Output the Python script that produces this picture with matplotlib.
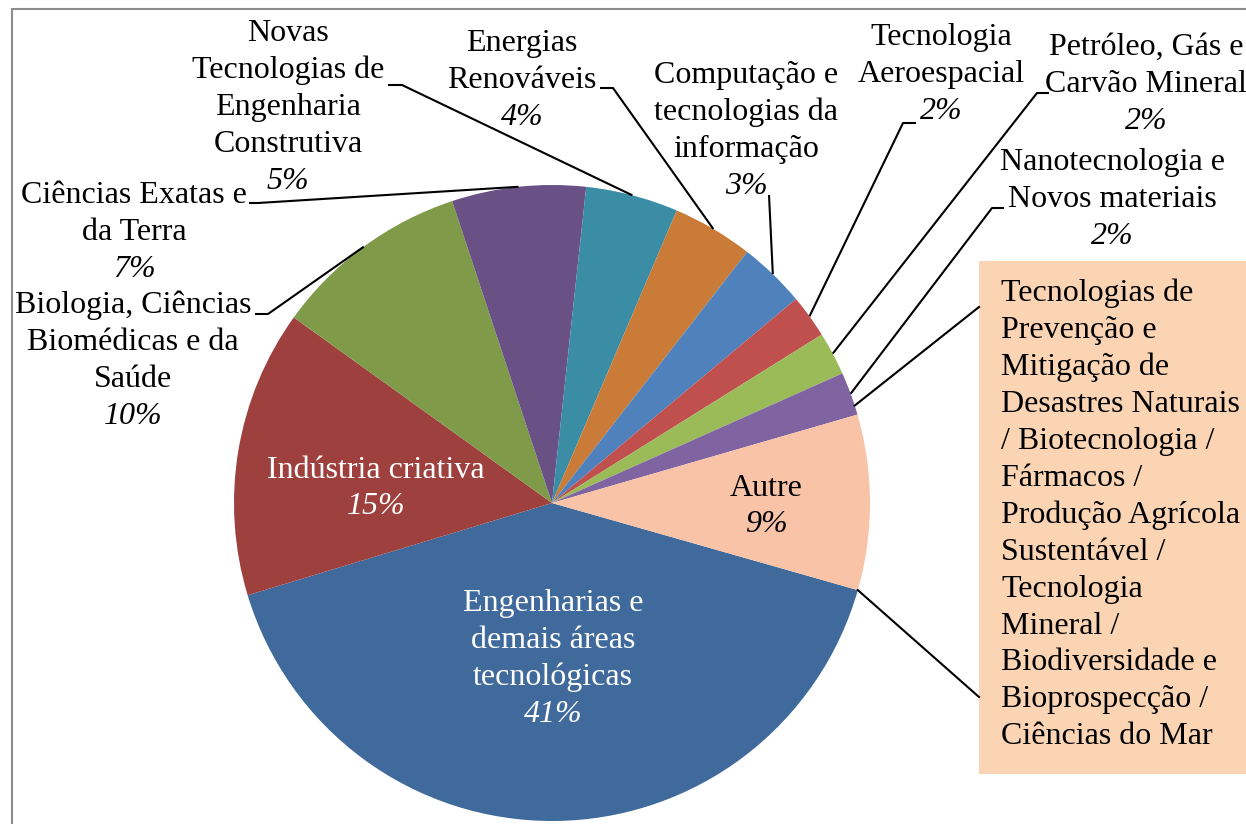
import numpy as np
import matplotlib
matplotlib.use('Agg')
import matplotlib.pyplot as plt
from matplotlib.patches import Rectangle

plt.rcParams['font.family'] = ['Liberation Serif', 'DejaVu Serif']

# dados (parcelas, sentido horario)
categorias = ['Engenharias e\ndemais áreas\ntecnológicas',
              'Indústria criativa',
              'Biologia, Ciências\nBiomédicas e da\nSaúde',
              'Ciências Exatas e\nda Terra',
              'Novas\nTecnologias de\nEngenharia\nConstrutiva',
              'Energias\nRenováveis',
              'Computação e\ntecnologias da\ninformação',
              'Tecnologia\nAeroespacial',
              'Petróleo, Gás e\nCarvão Mineral',
              'Nanotecnologia e\nNovos materiais',
              'Autre']
valores = [40.9, 14.6, 10.0, 6.8, 4.7, 4.1, 3.4, 2.2, 2.2, 2.2, 8.9]
cores = ['#406A9B', '#9E413E', '#7F9A48', '#695186', '#3B8CA5', '#CB7B38',
         '#4F81BD', '#C0504D', '#9BBB59', '#8064A2', '#F9C3A7']
texto_caixa = ['Tecnologias de', 'Prevenção e', 'Mitigação de',
               'Desastres Naturais', '/ Biotecnologia /', 'Fármacos /',
               'Produção Agrícola', 'Sustentável /', 'Tecnologia',
               'Mineral /', 'Biodiversidade e', 'Bioprospecção /',
               'Ciências do Mar']

W, H = 1246, 824
fig = plt.figure(figsize=(W / 100, H / 100), dpi=100)
ax = fig.add_axes([0, 0, 1, 1])

def py(y):
    # coordenada em pixel (de cima) -> dados
    return H - y

cx, cy, R = 552, 503, 318
a0 = -15.9
ax.pie(valores, colors=cores, startangle=a0, counterclock=False,
       center=(cx, py(cy)), radius=R, wedgeprops=dict(linewidth=0))

# angulos das fatias
tot = sum(valores)
fim = a0 - 360 * np.cumsum(valores) / tot
ini = np.concatenate([[a0], fim[:-1]])
meio = (ini + fim) / 2

def borda(ang):
    t = np.deg2rad(ang)
    return cx + R * np.cos(t), cy - R * np.sin(t)

FS = 23
LH = 37
# posicao dos rotulos: (x centro, y da primeira linha, cor)
pos = [(553, 603, 'white'), (376, 470, 'white'), (133, 305, 'black'),
       (134, 195, 'black'), (288, 33, 'black'), (522, 43, 'black'),
       (746, 75, 'black'), (941, 37, 'black'), (1146, 47, 'black'),
       (1112, 162, 'black'), (766, 488, 'black')]

for nome, v, (x, y0, c) in zip(categorias, valores, pos):
    n = nome.count('\n') + 1
    for k, linha in enumerate(nome.split('\n')):
        ax.text(x, py(y0 + k * LH), linha, ha='center', va='center',
                fontsize=FS, color=c)
    ax.text(x, py(y0 + n * LH), '{:.0f}%'.format(v), ha='center',
            va='center', fontsize=FS, color=c, style='italic')

# linhas de chamada
chamadas = {4: [(388, 85), (402, 85)], 3: [(249, 203), (258, 203)],
            2: [(255, 314), (268, 314)], 5: [(600, 88), (613, 88)],
            6: [(769, 195)], 7: [(916, 123), (903, 123)],
            8: [(1049, 93), (1037, 93)], 9: [(1004, 208), (992, 208)]}
for i, pts in chamadas.items():
    pts = pts + [borda(meio[i])]
    xs = [p[0] for p in pts]
    ys = [py(p[1]) for p in pts]
    ax.plot(xs, ys, color='black', lw=1.5, solid_capstyle='butt')

# caixa "Autre"
ax.add_patch(Rectangle((979, py(774)), 400, 774 - 261, facecolor='#FBD4B4',
                       edgecolor='none', zorder=1))
for k, linha in enumerate(texto_caixa):
    ax.text(1001, py(293 + k * LH), linha, ha='left', va='center',
            fontsize=FS, color='black', zorder=2)
for ang, yb in [(ini[-1] + 1.7, 307), (fim[-1], 697)]:
    bx, by = borda(ang)
    ax.plot([bx, 979], [py(by), py(yb)], color='black', lw=1.5)

# moldura
ax.add_patch(Rectangle((12, -100), 1400, py(9) + 100, fill=False,
                       edgecolor='#8C8C8C', lw=1.5))

ax.set_xlim(0, W)
ax.set_ylim(0, H)
ax.set_aspect('auto')
ax.axis('off')
fig.savefig('out.png', dpi=100)
